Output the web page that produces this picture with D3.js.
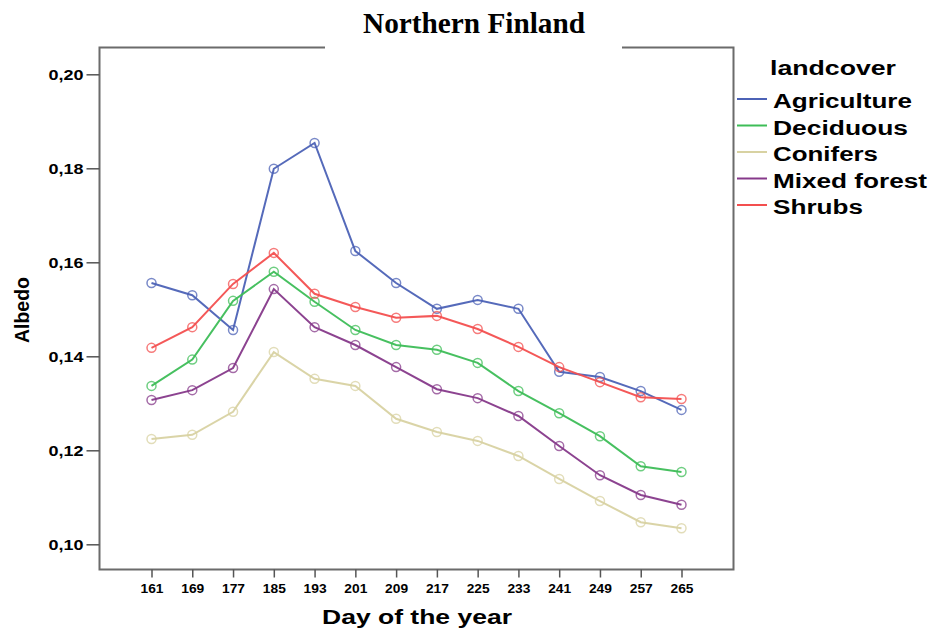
<!DOCTYPE html>
<html>
<head>
<meta charset="utf-8">
<script src="https://cdn.jsdelivr.net/npm/d3@7"></script>
<style>
  html, body { margin: 0; padding: 0; background: #fff; }
  svg { display: block; }
  text { font-family: "Liberation Sans", Arial, sans-serif; font-weight: bold; fill: #000; }
</style>
</head>
<body>
<svg id="chart" width="934" height="632"></svg>
<script>
// Mean albedo per land cover class, northern Finland, by day of year
const days = [161, 169, 177, 185, 193, 201, 209, 217, 225, 233, 241, 249, 257, 265];
const agriculture = [0.1556, 0.1530, 0.1456, 0.1799, 0.1854, 0.1624, 0.1556, 0.1501, 0.1520, 0.1501, 0.1367, 0.1356, 0.1326, 0.1286];
const deciduous   = [0.1337, 0.1393, 0.1518, 0.1580, 0.1516, 0.1456, 0.1424, 0.1414, 0.1386, 0.1326, 0.1279, 0.1230, 0.1166, 0.1154];
const conifers    = [0.1224, 0.1233, 0.1282, 0.1409, 0.1352, 0.1337, 0.1267, 0.1239, 0.1220, 0.1188, 0.1139, 0.1092, 0.1047, 0.1034];
const mixedForest = [0.1307, 0.1328, 0.1375, 0.1543, 0.1462, 0.1424, 0.1377, 0.1330, 0.1311, 0.1273, 0.1209, 0.1147, 0.1105, 0.1084];
const shrubs      = [0.1418, 0.1462, 0.1554, 0.1620, 0.1533, 0.1505, 0.1482, 0.1486, 0.1458, 0.1420, 0.1377, 0.1345, 0.1313, 0.1309];
const yTicks = [0.10, 0.12, 0.14, 0.16, 0.18, 0.20];
const seriesNames = ["Agriculture", "Deciduous", "Conifers", "Mixed forest", "Shrubs"];
const seriesColors = ["#4c62b6", "#3dbd57", "#d8d2a2", "#86398a", "#f34f4f"];

const series = [agriculture, deciduous, conifers, mixedForest, shrubs].map((vals, i) => ({
  name: seriesNames[i], color: seriesColors[i],
  points: vals.map((v, j) => ({ day: days[j], value: v }))
}));

const svg = d3.select("#chart");
const frame = { left: 99.5, right: 733.5, top: 47.5, bottom: 569.5 };

const x = d3.scaleLinear().domain([161, 265]).range([151.5, 681.5]);
const y = d3.scaleLinear().domain([0.10, 0.20]).range([544.3, 74.3]);

// Plot frame, open at the top where the title sits
svg.append("path")
  .attr("d", `M325,${frame.top} H${frame.left} V${frame.bottom} H${frame.right} V${frame.top} H622`)
  .attr("fill", "none").attr("stroke", "#6b6b6b").attr("stroke-width", 2);

// Title
svg.append("text")
  .attr("x", 474).attr("y", 33)
  .attr("text-anchor", "middle")
  .style("font-family", "'Liberation Serif', 'Times New Roman', serif")
  .style("font-size", "29px")
  .attr("textLength", 222).attr("lengthAdjust", "spacingAndGlyphs")
  .text("Northern Finland");

// Y axis
const yAxis = svg.append("g")
  .attr("transform", `translate(${frame.left},0)`)
  .call(d3.axisLeft(y).tickValues(yTicks).tickSize(13).tickPadding(3)
    .tickFormat(d => d3.format(".2f")(d).replace(".", ",")));
yAxis.select(".domain").remove();
yAxis.selectAll(".tick line").attr("stroke", "#555").attr("stroke-width", 1.5);
yAxis.selectAll(".tick text")
  .style("font-size", "15px").style("font-weight", "bold")
  .attr("fill", "#000")
  .attr("textLength", 35).attr("lengthAdjust", "spacingAndGlyphs");

// X axis
const xAxis = svg.append("g")
  .attr("transform", `translate(0,${frame.bottom})`)
  .call(d3.axisBottom(x).tickValues(days).tickSize(8).tickPadding(6).tickFormat(d3.format("d")));
xAxis.select(".domain").remove();
xAxis.selectAll(".tick line").attr("stroke", "#555").attr("stroke-width", 1.5);
xAxis.selectAll(".tick text")
  .style("font-size", "13px").style("font-weight", "bold")
  .attr("fill", "#000")
  .attr("textLength", 23).attr("lengthAdjust", "spacingAndGlyphs");

// Axis titles
svg.append("text")
  .attr("x", 417).attr("y", 624)
  .attr("text-anchor", "middle")
  .style("font-size", "21px")
  .attr("textLength", 190).attr("lengthAdjust", "spacingAndGlyphs")
  .text("Day of the year");

svg.append("text")
  .attr("transform", "translate(29,310) rotate(-90)")
  .attr("text-anchor", "middle")
  .style("font-size", "21px")
  .attr("textLength", 66).attr("lengthAdjust", "spacingAndGlyphs")
  .text("Albedo");

// Lines with hollow circle markers
const line = d3.line().x(d => x(d.day)).y(d => y(d.value));
const g = svg.append("g");
series.forEach(s => {
  g.append("path")
    .datum(s.points)
    .attr("d", line)
    .attr("fill", "none")
    .attr("stroke", s.color)
    .attr("stroke-width", 2)
    .attr("stroke-opacity", 0.95);
  g.selectAll(null)
    .data(s.points)
    .join("circle")
    .attr("cx", d => x(d.day))
    .attr("cy", d => y(d.value))
    .attr("r", 4.5)
    .attr("fill", "none")
    .attr("stroke", s.color)
    .attr("stroke-width", 1.5)
    .attr("stroke-opacity", 0.75);
});

// Legend
const legendWidths = [139, 135, 105, 154, 90];
svg.append("text")
  .attr("x", 770).attr("y", 75)
  .style("font-size", "20px")
  .attr("textLength", 126).attr("lengthAdjust", "spacingAndGlyphs")
  .text("landcover");
const legend = svg.append("g");
series.forEach((s, i) => {
  const cy = 99 + i * 26.5;
  legend.append("line")
    .attr("x1", 737).attr("x2", 767)
    .attr("y1", cy).attr("y2", cy)
    .attr("stroke", s.color).attr("stroke-width", 2);
  legend.append("text")
    .attr("x", 773).attr("y", cy + 9)
    .style("font-size", "20px")
    .attr("textLength", legendWidths[i]).attr("lengthAdjust", "spacingAndGlyphs")
    .text(s.name);
});
</script>
</body>
</html>
